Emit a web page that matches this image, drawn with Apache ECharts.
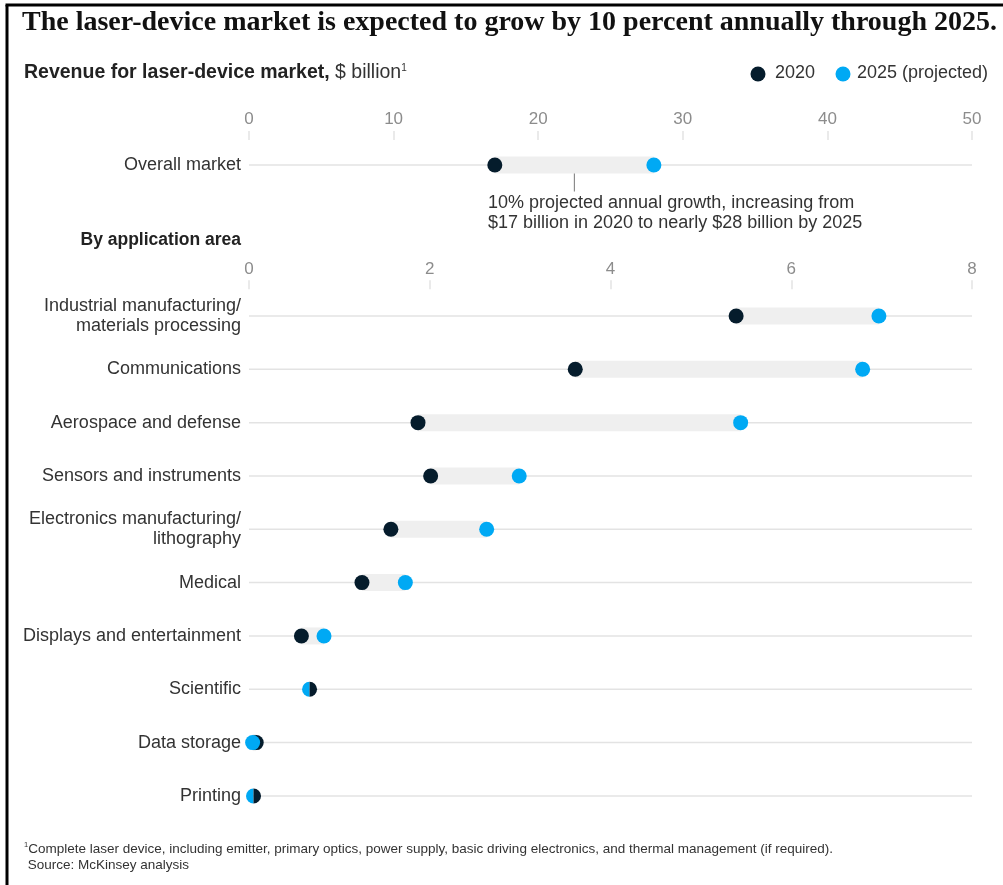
<!DOCTYPE html>
<html>
<head>
<meta charset="utf-8">
<script src="https://cdn.jsdelivr.net/npm/echarts@6/dist/echarts.min.js"></script>
<style>
  html, body { margin: 0; padding: 0; background: #fff; }
  #chart { width: 1003px; height: 885px; }
</style>
</head>
<body>
<div id="chart"></div>
<script>
// Revenue for laser-device market, $ billion
const overallCategories = ['Overall market'];
const overall2020 = [17];
const overall2025 = [28];

const areaCategories = [
  'Industrial manufacturing/\nmaterials processing',
  'Communications',
  'Aerospace and defense',
  'Sensors and instruments',
  'Electronics manufacturing/\nlithography',
  'Medical',
  'Displays and entertainment',
  'Scientific',
  'Data storage',
  'Printing'
];
const area2020 = [5.39, 3.61, 1.87, 2.01, 1.57, 1.25, 0.58, 0.67, 0.08, 0.05];
const area2025 = [6.97, 6.79, 5.44, 2.99, 2.63, 1.73, 0.83, 0.67, 0.04, 0.05];

const overallTicks = { min: 0, max: 50, interval: 10 };
const areaTicks = { min: 0, max: 8, interval: 2 };

const DARK = '#051c2c';
const BLUE = '#00a9f4';
const RANGE = '#efefef';
const RULE = '#e3e3e3';
const TEXT = '#333333';
const TICK_TEXT = '#8c8c8c';
const SANS = '"Liberation Sans", Arial, sans-serif';

// Dumbbell row: base rule, range band, 2020 dot, 2025 dot (split halves when equal)
function dumbbell(xMax, withLeader) {
  return function (params, api) {
    const idx = api.value(0);
    const a = api.value(1);
    const b = api.value(2);
    const pa = api.coord([a, idx]);
    const pb = api.coord([b, idx]);
    const l0 = api.coord([0, idx]);
    const l1 = api.coord([xMax, idx]);
    const r = 7.5;
    const bandH = 17;
    const children = [
      { type: 'line', shape: { x1: l0[0], y1: l0[1], x2: l1[0], y2: l1[1] },
        style: { stroke: RULE, lineWidth: 1.5 } },
      { type: 'rect',
        shape: { x: Math.min(pa[0], pb[0]), y: pa[1] - bandH / 2,
                 width: Math.abs(pb[0] - pa[0]), height: bandH },
        style: { fill: RANGE } }
    ];
    if (withLeader) {
      const mid = api.coord([(a + b) / 2, idx]);
      children.push({ type: 'line',
        shape: { x1: mid[0], y1: mid[1] + bandH / 2, x2: mid[0], y2: mid[1] + bandH / 2 + 18 },
        style: { stroke: '#777', lineWidth: 1 } });
    }
    if (Math.abs(a - b) < 1e-9) {
      children.push({ type: 'sector',
        shape: { cx: pb[0], cy: pb[1], r0: 0, r: r, startAngle: Math.PI / 2, endAngle: Math.PI * 1.5 },
        style: { fill: BLUE } });
      children.push({ type: 'sector',
        shape: { cx: pa[0], cy: pa[1], r0: 0, r: r, startAngle: -Math.PI / 2, endAngle: Math.PI / 2 },
        style: { fill: DARK } });
    } else {
      children.push({ type: 'circle', shape: { cx: pa[0], cy: pa[1], r: r }, style: { fill: DARK } });
      children.push({ type: 'circle', shape: { cx: pb[0], cy: pb[1], r: r }, style: { fill: BLUE } });
    }
    return { type: 'group', children: children };
  };
}

function valueAxis(gridIndex, ticks, margin) {
  return {
    type: 'value', gridIndex: gridIndex, position: 'top',
    min: ticks.min, max: ticks.max, interval: ticks.interval,
    axisLine: { show: false },
    axisTick: { show: true, length: 9, lineStyle: { color: '#e3e3e3', width: 1.5 } },
    axisLabel: { color: TICK_TEXT, fontSize: 17, fontFamily: SANS, margin: margin },
    splitLine: { show: false }
  };
}

function categoryAxis(gridIndex, cats) {
  return {
    type: 'category', gridIndex: gridIndex, data: cats, inverse: true,
    axisLine: { show: false }, axisTick: { show: false }, splitLine: { show: false },
    axisLabel: { color: TEXT, fontSize: 18, fontFamily: SANS, margin: 8, lineHeight: 20, align: 'right' }
  };
}

const chart = echarts.init(document.getElementById('chart'), null, { renderer: 'canvas' });

chart.setOption({
  backgroundColor: '#fff',
  animation: false,
  grid: [
    { left: 249, right: 31, top: 140, height: 50 },
    { left: 249, right: 31, top: 289.3, height: 533.3 }
  ],
  xAxis: [valueAxis(0, overallTicks, 12), valueAxis(1, areaTicks, 11)],
  yAxis: [categoryAxis(0, overallCategories), categoryAxis(1, areaCategories)],
  series: [
    {
      type: 'custom', name: 'Overall', xAxisIndex: 0, yAxisIndex: 0, clip: false,
      renderItem: dumbbell(overallTicks.max, true),
      encode: { x: [1, 2], y: 0 },
      data: overallCategories.map((c, i) => [i, overall2020[i], overall2025[i]])
    },
    {
      type: 'custom', name: 'By application area', xAxisIndex: 1, yAxisIndex: 1, clip: false,
      renderItem: dumbbell(areaTicks.max, false),
      encode: { x: [1, 2], y: 0 },
      data: areaCategories.map((c, i) => [i, area2020[i], area2025[i]])
    }
  ],
  graphic: [
    // frame
    { type: 'line', shape: { x1: 5.5, y1: 5, x2: 1003, y2: 5 }, style: { stroke: '#000', lineWidth: 3 } },
    { type: 'line', shape: { x1: 7, y1: 5, x2: 7, y2: 885 }, style: { stroke: '#000', lineWidth: 3 } },
    // headline
    { type: 'text', left: 22, top: 9,
      style: { text: 'The laser-device market is expected to grow by 10 percent annually through 2025.',
               fill: '#111', font: 'bold 28px "Liberation Serif", "DejaVu Serif", serif' } },
    // subtitle
    { type: 'text', left: 24, top: 63,
      style: { text: '{b|Revenue for laser-device market,} $ billion{s|1}',
               fill: TEXT, font: '19.5px ' + SANS,
               rich: { b: { fontWeight: 'bold', fontSize: 19.5, fontFamily: SANS, fill: '#222' },
                       s: { fontSize: 10, fontFamily: SANS, verticalAlign: 'top', padding: [0, 0, 9, 0] } } } },
    // legend
    { type: 'circle', shape: { cx: 758, cy: 74, r: 7.5 }, style: { fill: DARK } },
    { type: 'text', left: 775, top: 64, style: { text: '2020', fill: TEXT, font: '18px ' + SANS } },
    { type: 'circle', shape: { cx: 843, cy: 74, r: 7.5 }, style: { fill: BLUE } },
    { type: 'text', left: 857, top: 64, style: { text: '2025 (projected)', fill: TEXT, font: '18px ' + SANS } },
    // callout
    { type: 'text', left: 488, top: 193,
      style: { text: '10% projected annual growth, increasing from\n$17 billion in 2020 to nearly $28 billion by 2025',
               fill: TEXT, font: '18px ' + SANS, lineHeight: 20 } },
    // section heading
    { type: 'text', right: 1003 - 241, top: 231,
      style: { text: 'By application area', fill: '#222', font: 'bold 17.5px ' + SANS, textAlign: 'right' } },
    // footnote
    { type: 'text', left: 24, top: 841,
      style: { text: '{s|1}Complete laser device, including emitter, primary optics, power supply, basic driving electronics, and thermal management (if required).\n Source: McKinsey analysis',
               fill: TEXT, font: '13.5px ' + SANS, lineHeight: 16,
               rich: { s: { fontSize: 7.5, fontFamily: SANS, verticalAlign: 'top' } } } }
  ]
});
</script>
</body>
</html>
